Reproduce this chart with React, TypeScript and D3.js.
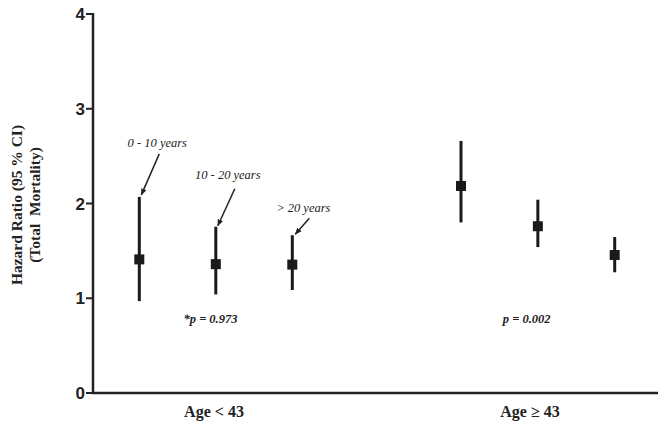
import React from "react";
import * as d3 from "d3";

const groups = ["Age < 43", "Age \u2265 43"];
const subgroups = ["0 - 10 years", "10 - 20 years", "> 20 years"];
const hr = [1.41, 1.36, 1.355, 2.185, 1.76, 1.456];
const lower = [0.97, 1.04, 1.087, 1.8, 1.54, 1.274];
const upper = [2.07, 1.755, 1.665, 2.66, 2.04, 1.646];
const yTicks = [0, 1, 2, 3, 4];
const pValues = ["*p = 0.973", "p = 0.002"];

const W = 671;
const H = 428;
const x0 = 93;
const x1 = 658;
const yTop = 14;
const yBottom = 393;

export default function App() {
  const y = d3.scaleLinear().domain([0, 4]).range([yBottom, yTop]);
  const xi = d3.scaleLinear().domain([0, 2, 3, 5]).range([139.3, 292.3, 461, 614.7]);
  const xg = d3.scaleLinear().domain([0, 1]).range([214, 530]);
  const xp = d3.scaleLinear().domain([0, 1]).range([210.5, 526.7]);
  const sq = 10;

  const labelOffsets = [
    { lx: 18, ly: -50, ax0: 20, ay0: -43, ax1: 2, ay1: -2 },
    { lx: 12, ly: -48, ax0: 19, ay0: -38, ax1: 2, ay1: -1 },
    { lx: 11, ly: -23, ax0: 17, ay0: -17, ax1: 3, ay1: -1 },
  ];

  const serif = "'Liberation Serif', 'Times New Roman', serif";
  const sans = "'Liberation Sans', Arial, sans-serif";

  return (
    <svg width={W} height={H} style={{ position: "absolute", left: 0, top: 0, background: "#fff" }}>
      <defs>
        <marker id="ah" viewBox="0 0 10 10" refX="9" refY="5" markerWidth="7" markerHeight="7" orient="auto" markerUnits="userSpaceOnUse">
          <path d="M0,1 L10,5 L0,9 Z" fill="#222" />
        </marker>
      </defs>
      <line x1={x0} x2={x0} y1={yTop - 1} y2={yBottom + 1} stroke="#222" strokeWidth={2.5} />
      <line x1={x0 - 1} x2={x1} y1={yBottom} y2={yBottom} stroke="#222" strokeWidth={2.5} />
      {yTicks.map((t) => (
        <g key={t}>
          <line x1={x0 - 7} x2={x0} y1={y(t)} y2={y(t)} stroke="#222" strokeWidth={2} />
          <text x={x0 - 8} y={y(t)} dy="0.36em" textAnchor="end" fontFamily={sans} fontWeight="bold" fontSize={17} fill="#222">
            {t}
          </text>
        </g>
      ))}
      <text transform="translate(22,205) rotate(-90)" textAnchor="middle" fontFamily={serif} fontWeight="bold" fontSize={15.5} fill="#222">
        Hazard Ratio (95 % CI)
      </text>
      <text transform="translate(40,205) rotate(-90)" textAnchor="middle" fontFamily={serif} fontWeight="bold" fontSize={15.5} fill="#222" style={{ whiteSpace: "pre" }}>
        {"(Total  Mortality)"}
      </text>
      {groups.map((g, i) => (
        <text key={g} x={xg(i)} y={417} textAnchor="middle" fontFamily={serif} fontWeight="bold" fontSize={16} fill="#222" style={{ whiteSpace: "pre" }}>
          {g}
        </text>
      ))}
      {pValues.map((p, i) => (
        <text key={p} x={xp(i)} y={323} textAnchor="middle" fontFamily={serif} fontWeight="bold" fontStyle="italic" fontSize={12.5} fill="#222">
          {p}
        </text>
      ))}
      {hr.map((v, i) => (
        <g key={i}>
          <line x1={xi(i)} x2={xi(i)} y1={y(upper[i])} y2={y(lower[i])} stroke="#1a1a1a" strokeWidth={3} />
          <rect x={xi(i) - sq / 2} y={y(v) - sq / 2} width={sq} height={sq} fill="#1a1a1a" />
        </g>
      ))}
      {subgroups.map((s, i) => {
        const o = labelOffsets[i];
        const bx = xi(i);
        const by = y(upper[i]);
        return (
          <g key={s}>
            <text x={bx + o.lx} y={by + o.ly} textAnchor="middle" fontFamily={serif} fontStyle="italic" fontSize={12.5} fill="#222">
              {s}
            </text>
            <line x1={bx + o.ax0} y1={by + o.ay0} x2={bx + o.ax1} y2={by + o.ay1} stroke="#222" strokeWidth={1.5} markerEnd="url(#ah)" />
          </g>
        );
      })}
    </svg>
  );
}
